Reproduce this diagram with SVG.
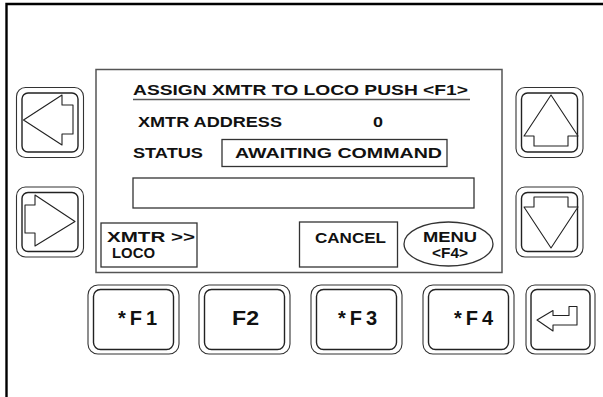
<svg xmlns="http://www.w3.org/2000/svg" width="603" height="397" viewBox="0 0 603 397">
  <style>
    .frame { fill: none; stroke: #000; stroke-width: 2.4; }
    .screen { fill: #fff; stroke: #555; stroke-width: 1.5; }
    .box { fill: #fff; stroke: #333; stroke-width: 1.3; }
    .keyout { fill: #fff; stroke: #333; stroke-width: 1.1; }
    .keyin { fill: #fff; stroke: #222; stroke-width: 1.4; }
    .glyph { fill: #fff; stroke: #222; stroke-width: 1.1; stroke-linejoin: round; }
    .lbl { font-family: "Liberation Sans", Arial, sans-serif; font-weight: bold; font-size: 15.5px; fill: #111; }
    .key { font-family: "Liberation Sans", Arial, sans-serif; font-weight: bold; font-size: 20px; fill: #111; }
  </style>

  <!-- panel frame: top and left edges only -->
  <path class="frame" d="M6.5,397 V4 H603"/>

  <!-- display area -->
  <g id="screen">
    <rect class="screen" x="96" y="69.5" width="406" height="203"/>
    <text class="lbl" x="133" y="95" textLength="335" lengthAdjust="spacingAndGlyphs">ASSIGN XMTR TO LOCO PUSH &lt;F1&gt;</text>
    <line x1="133" y1="99.5" x2="470" y2="99.5" stroke="#555" stroke-width="1.6"/>
    <text class="lbl" x="138" y="127" textLength="144" lengthAdjust="spacingAndGlyphs">XMTR ADDRESS</text>
    <text class="lbl" x="373" y="127" textLength="10" lengthAdjust="spacingAndGlyphs">0</text>
    <text class="lbl" x="133" y="158" textLength="70" lengthAdjust="spacingAndGlyphs">STATUS</text>
  </g>

  <g id="status-box">
    <rect class="box" x="222" y="139.5" width="225" height="27"/>
    <text class="lbl" x="235" y="158" textLength="207" lengthAdjust="spacingAndGlyphs">AWAITING COMMAND</text>
  </g>

  <g id="entry-field">
    <rect class="box" x="133" y="178" width="341" height="30"/>
  </g>

  <g id="softkey-xmtr-loco">
    <rect class="box" x="101" y="223" width="96" height="44"/>
    <text class="lbl" x="107" y="242" textLength="88" lengthAdjust="spacingAndGlyphs">XMTR &gt;&gt;</text>
    <text class="lbl" x="112" y="258" textLength="43" lengthAdjust="spacingAndGlyphs">LOCO</text>
  </g>

  <g id="softkey-cancel">
    <rect class="box" x="299.5" y="222" width="98" height="45"/>
    <text class="lbl" x="315" y="242.5" textLength="71" lengthAdjust="spacingAndGlyphs">CANCEL</text>
  </g>

  <g id="softkey-menu">
    <ellipse class="box" cx="448.5" cy="244" rx="44.5" ry="22"/>
    <text class="lbl" x="423" y="242" textLength="54" lengthAdjust="spacingAndGlyphs">MENU</text>
    <text class="lbl" x="432" y="258" textLength="36" lengthAdjust="spacingAndGlyphs">&lt;F4&gt;</text>
  </g>

  <!-- arrow keys -->
  <g id="key-left">
    <rect class="keyout" x="16.5" y="87.5" width="67" height="70" rx="9"/>
    <rect class="keyin" x="22" y="93" width="56" height="59" rx="6"/>
    <path class="glyph" d="M23.5,120 L62,95 V105 H73 V134 H62 V145 Z"/>
  </g>

  <g id="key-right">
    <rect class="keyout" x="16.5" y="187" width="67" height="70" rx="9"/>
    <rect class="keyin" x="22" y="192.5" width="56" height="59" rx="6"/>
    <path class="glyph" d="M75,221.5 L35,195 V205 H25 V233 H35 V246 Z"/>
  </g>

  <g id="key-up">
    <rect class="keyout" x="516" y="87.5" width="67" height="70" rx="9"/>
    <rect class="keyin" x="521.5" y="93" width="56" height="59" rx="6"/>
    <path class="glyph" d="M551,95 L578,136 H568 V146 H534 V136 H524 Z"/>
  </g>

  <g id="key-down">
    <rect class="keyout" x="516" y="187" width="67" height="70" rx="9"/>
    <rect class="keyin" x="521.5" y="192.5" width="56" height="59" rx="6"/>
    <path class="glyph" d="M551,248 L578,207 H568 V197 H534 V207 H524 Z"/>
  </g>

  <!-- function keys -->
  <g id="key-f1">
    <rect class="keyout" x="88" y="285" width="91" height="69" rx="10"/>
    <rect class="keyin" x="93.5" y="289.5" width="80" height="60" rx="7"/>
    <text class="key" x="118" y="325" textLength="39" lengthAdjust="spacing">*F1</text>
  </g>

  <g id="key-f2">
    <rect class="keyout" x="199" y="285" width="91" height="69" rx="10"/>
    <rect class="keyin" x="204.5" y="289.5" width="80" height="60" rx="7"/>
    <text class="key" x="232" y="325" textLength="27" lengthAdjust="spacingAndGlyphs">F2</text>
  </g>

  <g id="key-f3">
    <rect class="keyout" x="311" y="285" width="91" height="69" rx="10"/>
    <rect class="keyin" x="316.5" y="289.5" width="80" height="60" rx="7"/>
    <text class="key" x="338" y="325" textLength="39" lengthAdjust="spacing">*F3</text>
  </g>

  <g id="key-f4">
    <rect class="keyout" x="423" y="285" width="91" height="69" rx="10"/>
    <rect class="keyin" x="428.5" y="289.5" width="80" height="60" rx="7"/>
    <text class="key" x="454" y="325" textLength="39" lengthAdjust="spacing">*F4</text>
  </g>

  <g id="key-enter">
    <rect class="keyout" x="526" y="285" width="69" height="69" rx="9"/>
    <rect class="keyin" x="531" y="289.5" width="59" height="60" rx="6"/>
    <path class="glyph" d="M537,320 L553,310.5 V315.5 H569 V306.5 H577 V325 H553 V331 Z"/>
  </g>
</svg>
